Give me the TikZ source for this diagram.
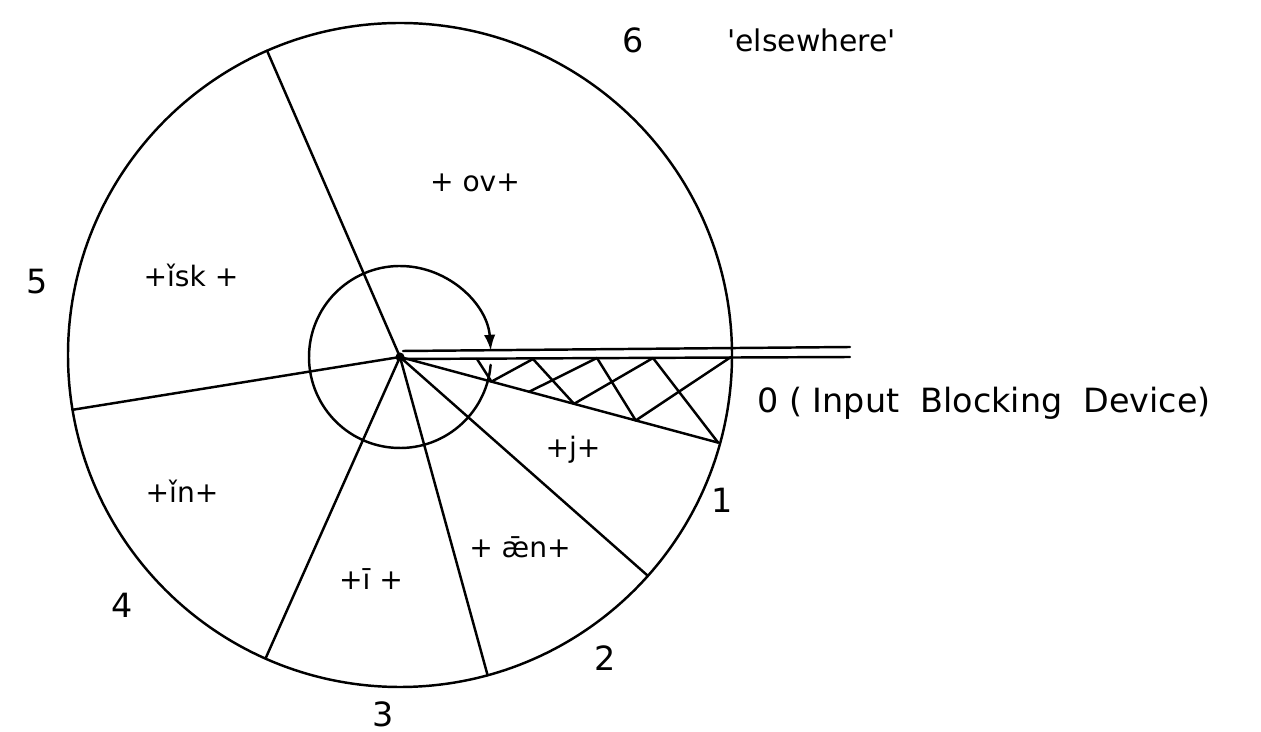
\documentclass[tikz,border=0pt]{standalone}
\usepackage{fontspec}
\newfontfamily\pf{DejaVu Sans}
\usetikzlibrary{calc,arrows.meta}
\begin{document}
\begin{tikzpicture}[x=0.02cm,y=-0.02cm,
  ln/.style={line width=1.4pt, line cap=round, line join=round},
  num/.style={font=\pf\fontsize{19}{19}\selectfont, inner sep=0pt},
  reg/.style={font=\pf\fontsize{16}{16}\selectfont, inner sep=0pt}]
\useasboundingbox (0,0) rectangle (1261,732);
% centres
\coordinate (C) at (400,355);
\coordinate (H) at (400,357);
% outer circle
\draw[ln] (C) circle[radius=332];
% spoke ends on the circle
\coordinate (E1) at ($(C)+(246.4:332)$);
\coordinate (E2) at ($(C)+(170.5:332)$);
\coordinate (E3) at ($(C)+(113.9:332)$);
\coordinate (E4) at ($(C)+(74.7:332)$);
\coordinate (E5) at ($(C)+(41.7:332)$);
\coordinate (E6) at ($(C)+(15.4:330)$);
\foreach \e in {E1,E2,E3,E4,E5,E6} \draw[ln] (H) -- (\e);
% double line (input blocking device)
\coordinate (T0) at (403,351);
\coordinate (T1) at (850,347);
\coordinate (B0) at (400,359);
\coordinate (B1) at (850,357);
\draw[ln] (T0) -- (T1);
\draw[ln] (B0) -- (B1);
% hatching
\coordinate (a1) at (477,359);
\coordinate (a2) at ($(H)!0.2875!(E6)$);
\coordinate (a3) at (533,359);
\coordinate (a4) at ($(H)!0.547!(E6)$);
\coordinate (a5) at (653,358);
\coordinate (b1) at ($(H)!0.406!(E6)$);
\coordinate (b2) at (597,358);
\coordinate (b3) at ($(H)!0.741!(E6)$);
\coordinate (b4) at (731,357);
\draw[ln] (a1) -- (a2) -- (a3) -- (a4) -- (a5) -- (E6);
\draw[ln] (b1) -- (b2) -- (b3) -- (b4);
% hub
\fill (H) circle[radius=4.5];
% small circle with arrow
\coordinate (AS) at ($(H)+(5:91)$);
\draw[ln, -{Latex[length=9pt,width=6.5pt]}] (AS) arc[start angle=5, end angle=356, radius=91];
% sector labels
\node[num] (n6) at (633,40) {6};
\node[num, anchor=west, font=\pf\fontsize{17}{17}\selectfont] (els) at (727,40) {'elsewhere'};
\node[num, anchor=base west] (n0) at (757,413) {0 ( Input \ Blocking \ Device)};
\node[num] (n1) at (722,500) {1};
\node[num] (n2) at (605,658) {2};
\node[num, anchor=base] (n3) at (383,726) {3};
\node[num] (n4) at (122,605) {4};
\node[num] (n5) at (37,282) {5};
% morpheme labels
\node[reg, anchor=base] (ov) at (475,192) {+ ov+};
\node[reg, anchor=base] (isk) at (191,287) {+ǐsk +};
\node[reg, anchor=base] (in) at (182,503) {+ǐn+};
\node[reg, anchor=base] (ib) at (371,590) {+ī +};
\node[reg, anchor=base] (aen) at (520,558) {+ ǣn+};
\node[reg, anchor=base] (jj) at (573,458) {+j+};
\end{tikzpicture}
\end{document}
